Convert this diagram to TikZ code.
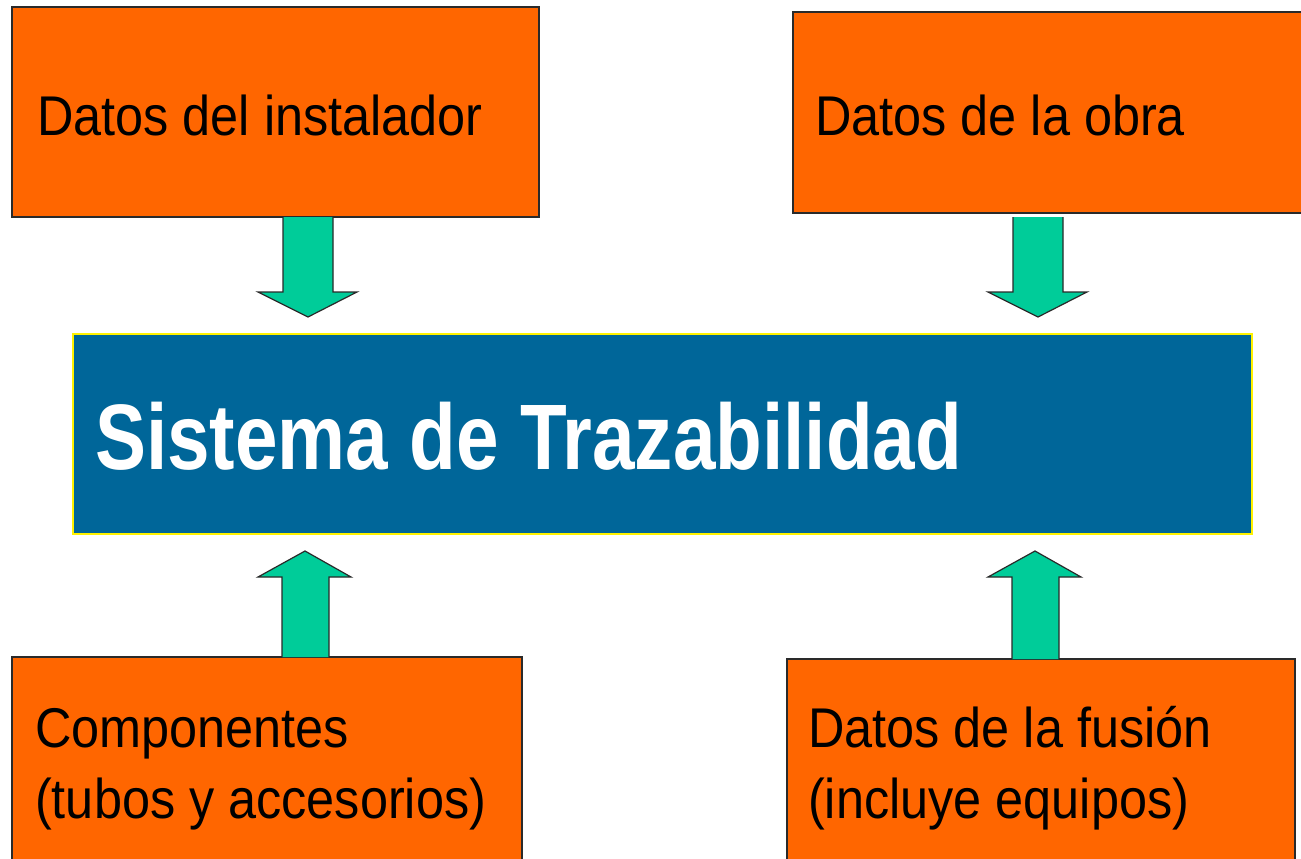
\documentclass[tikz,border=0pt]{standalone}
\usepackage{fontspec}
\setmainfont{Liberation Sans}
\newfontfamily\boxfont[FakeStretch=0.9]{Liberation Sans}
\newfontfamily\titlefont[FakeStretch=0.822]{Liberation Sans Bold}
\definecolor{orangebox}{HTML}{FF6600}
\definecolor{bluebox}{HTML}{006699}
\definecolor{greenarrow}{HTML}{00CC99}
\definecolor{edge}{HTML}{2A2A2A}
\tikzset{
  databox/.style={draw=edge, line width=1.4pt, fill=orangebox, anchor=north west, inner sep=0pt, outer sep=0pt},
  sysbox/.style={draw=yellow, line width=1.6pt, fill=bluebox, anchor=north west, inner sep=0pt, outer sep=0pt},
  boxtext/.style={anchor=base west, inner sep=0pt, font=\boxfont\fontsize{56}{67}\selectfont, text=black},
  titletext/.style={anchor=base west, inner sep=0pt, font=\titlefont\fontsize{93}{110}\selectfont, text=white},
  blockarrow/.style={draw=edge, line width=1.2pt, fill=greenarrow, line join=miter}
}
\begin{document}
\begin{tikzpicture}[x=1pt,y=-1pt]
\clip (0,0) rectangle (1301,859);
\fill[white] (0,0) rectangle (1301,859);
% boxes
\node[databox, minimum width=527pt, minimum height=210pt] (tl) at (12,7) {};
\node[databox, minimum width=512pt, minimum height=201pt] (tr) at (793,12) {};
\node[sysbox, minimum width=1179pt, minimum height=200pt] (sys) at (73,334) {};
\node[databox, minimum width=510pt, minimum height=210pt] (bl) at (12,657) {};
\node[databox, minimum width=508pt, minimum height=210pt] (br) at (787,659) {};
% texts
\node[boxtext] (tlt) at (37,135) {Datos del instalador};
\node[boxtext] (trt) at (815,135) {Datos de la obra};
\node[boxtext] (blt1) at (35,747) {Componentes};
\node[boxtext] (blt2) at (35,818) {(tubos y accesorios)};
\node[boxtext] (brt1) at (808,747) {Datos de la fusión};
\node[boxtext] (brt2) at (808,818) {(incluye equipos)};
\node[titletext] (title) at (95,469) {Sistema de Trazabilidad};
% arrows
\draw[blockarrow] (283,217) -- (283,292) -- (258,292) -- (308,317) -- (357,292) -- (333,292) -- (333,217);
\draw[blockarrow] (1013,217) -- (1013,292) -- (988,292) -- (1038,317) -- (1087,292) -- (1063,292) -- (1063,217);
\draw[blockarrow] (282,657) -- (282,577) -- (258,577) -- (305,551) -- (351,577) -- (329,577) -- (329,657);
\draw[blockarrow] (1012,659) -- (1012,577) -- (988,577) -- (1035,551) -- (1081,577) -- (1059,577) -- (1059,659);
\end{tikzpicture}
\end{document}
